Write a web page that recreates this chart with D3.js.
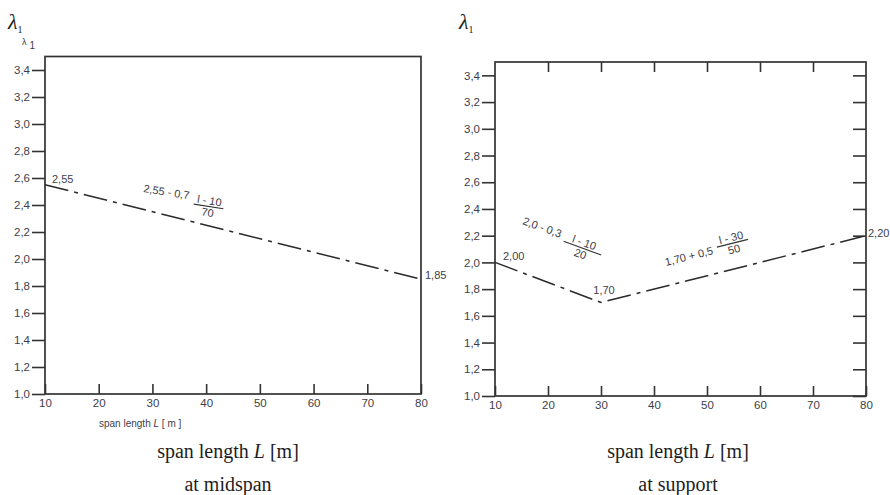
<!DOCTYPE html>
<html>
<head>
<meta charset="utf-8">
<script src="https://cdn.jsdelivr.net/npm/d3@7"></script>
<style>
  body { margin: 0; background: #fff; }
  svg { display: block; }
  .tick text { font-family: "Liberation Sans", Arial, sans-serif; font-size: 11.5px; fill: #3e3e4a; }
  .tick line { stroke: #333; stroke-width: 1.6; }
  .lbl { font-family: "Liberation Sans", Arial, sans-serif; font-size: 11px; fill: #3e3e4a; }
  .serif { font-family: "Liberation Serif", "Times New Roman", serif; fill: #1e1e1e; }
</style>
</head>
<body>
<div id="chart"></div>
<script>
// span length ticks and lambda ticks
var spanTicks = [10, 20, 30, 40, 50, 60, 70, 80];
var lambdaTicks = [1.0, 1.2, 1.4, 1.6, 1.8, 2.0, 2.2, 2.4, 2.6, 2.8, 3.0, 3.2, 3.4];

// at midspan
var midspanL = [10, 80];
var midspanLambda = [2.55, 1.85];

// at support
var supportL = [10, 30, 80];
var supportLambda = [2.00, 1.70, 2.20];

var comma = function (v, p) { return d3.format("." + p + "f")(v).replace(".", ","); };

var svg = d3.select("#chart").append("svg")
    .attr("width", 890)
    .attr("height", 495);

function drawPanel(opt) {
    var x = d3.scaleLinear().domain([10, 80]).range([opt.left, opt.right]);
    var y = d3.scaleLinear().domain([1.0, 3.5]).range([opt.bottom, opt.top]);
    var g = svg.append("g");

    // left axis, ticks outside
    var ya = g.append("g")
        .attr("transform", "translate(" + opt.left + ",0)")
        .call(d3.axisLeft(y).tickValues(lambdaTicks).tickSize(13).tickPadding(2)
            .tickFormat(function (d) { return comma(d, 1); }));
    ya.select(".domain").remove();

    // bottom axis, ticks inside
    var xa = g.append("g")
        .attr("transform", "translate(0," + opt.bottom + ")")
        .call(d3.axisBottom(x).tickValues(spanTicks).tickSize(-10).tickPadding(5));
    xa.select(".domain").remove();

    if (opt.full) {
        var ta = g.append("g")
            .attr("transform", "translate(0," + opt.top + ")")
            .call(d3.axisTop(x).tickValues(spanTicks.slice(1, -1)).tickSize(-10).tickFormat(""));
        ta.select(".domain").remove();
        var ra = g.append("g")
            .attr("transform", "translate(" + opt.right + ",0)")
            .call(d3.axisRight(y).tickValues(lambdaTicks).tickSize(-13).tickFormat(""));
        ra.select(".domain").remove();
    }

    // frame
    g.append("rect")
        .attr("x", opt.left).attr("y", opt.top)
        .attr("width", opt.right - opt.left).attr("height", opt.bottom - opt.top)
        .attr("fill", "none").attr("stroke", "#333").attr("stroke-width", 1.7);

    // curve
    var pts = opt.xs.map(function (d, i) { return [d, opt.ys[i]]; });
    g.append("path")
        .datum(pts)
        .attr("d", d3.line().x(function (d) { return x(d[0]); }).y(function (d) { return y(d[1]); }))
        .attr("fill", "none")
        .attr("stroke", "#2a2a2a")
        .attr("stroke-width", 1.5)
        .attr("stroke-dasharray", "24,6,4,6");

    // point labels
    opt.labels.forEach(function (l) {
        g.append("text").attr("class", "lbl")
            .attr("x", x(l.at[0]) + l.dx)
            .attr("y", y(l.at[1]) + l.dy)
            .attr("text-anchor", l.anchor || "start")
            .text(comma(l.at[1], 2));
    });

    // formulas
    opt.formulas.forEach(function (f) {
        var fg = g.append("g")
            .attr("transform", "translate(" + f.pos[0] + "," + f.pos[1] + ") rotate(" + f.rot + ")");
        fg.append("text").attr("class", "lbl").attr("x", 0).attr("y", 0).text(f.main);
        var cx = f.fx + f.fw / 2;
        fg.append("text").attr("class", "lbl").attr("x", cx).attr("y", f.fy - 2)
            .attr("text-anchor", "middle").text(f.num);
        fg.append("line")
            .attr("x1", f.fx).attr("x2", f.fx + f.fw)
            .attr("y1", f.fy).attr("y2", f.fy)
            .attr("stroke", "#333").attr("stroke-width", 1.2);
        fg.append("text").attr("class", "lbl").attr("x", cx).attr("y", f.fy + 10)
            .attr("text-anchor", "middle").text(f.den);
    });

    // lambda label
    var lam = g.append("text").attr("class", "serif")
        .attr("x", opt.lamX).attr("y", 29)
        .style("font-size", "22px").style("font-style", "italic");
    lam.append("tspan").text("\u03bb");
    lam.append("tspan").attr("dy", 4).style("font-size", "10px").style("font-style", "normal").text("1");

    // titles
    g.append("text").attr("class", "serif")
        .attr("x", opt.cx).attr("y", 458).attr("text-anchor", "middle")
        .style("font-size", "20px")
        .call(function (t) {
            t.append("tspan").text("span length ");
            t.append("tspan").style("font-style", "italic").text("L");
            t.append("tspan").text(" [m]");
        });
    g.append("text").attr("class", "serif")
        .attr("x", opt.cx).attr("y", 491).attr("text-anchor", "middle")
        .style("font-size", "20px")
        .text(opt.sub);

    return { x: x, y: y, g: g };
}

var left = drawPanel({
    left: 45, right: 421, top: 56.5, bottom: 394, full: false,
    xs: midspanL, ys: midspanLambda,
    labels: [
        { at: [midspanL[0], midspanLambda[0]], dx: 7, dy: -2 },
        { at: [midspanL[1], midspanLambda[1]], dx: 4, dy: 0 }
    ],
    formulas: [
        { pos: [143, 192], rot: 9, main: "2,55 - 0,7", num: "l - 10", den: "70", fx: 52, fw: 30, fy: 4 }
    ],
    lamX: 8, cx: 228, sub: "at midspan"
});

// small duplicate lambda label and small axis caption on the midspan panel
var small = left.g.append("text").attr("class", "lbl")
    .attr("x", 22).attr("y", 45).style("font-size", "9px");
small.append("tspan").text("\u03bb");
small.append("tspan").attr("dx", 3).attr("dy", 4).style("font-size", "10px").text("1");

var cap = left.g.append("text").attr("class", "lbl")
    .attr("x", 99).attr("y", 427).style("font-size", "10px");
cap.append("tspan").text("span length  ");
cap.append("tspan").style("font-style", "italic").text("L");
cap.append("tspan").text(" [ m ]");

drawPanel({
    left: 495, right: 866, top: 62, bottom: 396, full: true,
    xs: supportL, ys: supportLambda,
    labels: [
        { at: [supportL[0], supportLambda[0]], dx: 8, dy: -2 },
        { at: [supportL[1], supportLambda[1]], dx: 3, dy: -8, anchor: "middle" },
        { at: [supportL[2], supportLambda[2]], dx: 2, dy: 1 }
    ],
    formulas: [
        { pos: [522, 224], rot: 20, main: "2,0 - 0,3", num: "l - 10", den: "20", fx: 45, fw: 40, fy: 2 },
        { pos: [666, 266], rot: -14, main: "1,70 + 0,5", num: "l - 30", den: "50", fx: 54, fw: 32, fy: -6 }
    ],
    lamX: 459, cx: 678, sub: "at support"
});
</script>
</body>
</html>
